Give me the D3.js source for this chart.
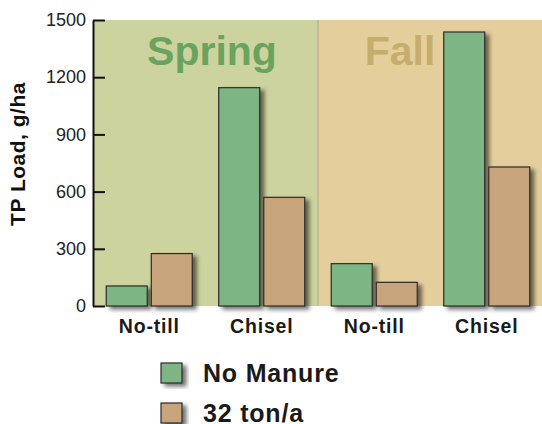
<!DOCTYPE html>
<html>
<head>
<meta charset="utf-8">
<script src="https://cdn.jsdelivr.net/npm/d3@7"></script>
<style>
  body { margin: 0; background: #fff; }
  svg { display: block; }
  text { font-family: "Liberation Sans", Arial, Helvetica, sans-serif; }
</style>
</head>
<body>
<script>
// data
const categories = ['Spring No-till', 'Spring Chisel', 'Fall No-till', 'Fall Chisel'];
const tillage = ['No-till', 'Chisel', 'No-till', 'Chisel'];
const seasons = ['Spring', 'Fall'];
const series = ['No Manure', '32 ton/a'];
const noManure = [105, 1145, 222, 1437];
const manure32 = [275, 570, 124, 729];
const yTicks = [0, 300, 600, 900, 1200, 1500];

const width = 542;
const height = 424;
const colors = { 'No Manure': '#7db684', '32 ton/a': '#c8a47d' };

const svg = d3.select('body')
  .append('svg')
  .attr('width', width)
  .attr('height', height);

const defs = svg.append('defs');
const shadow = defs.append('filter')
  .attr('id', 'shadow')
  .attr('x', '-20%').attr('y', '-20%')
  .attr('width', '150%').attr('height', '150%');
shadow.append('feDropShadow')
  .attr('dx', 4).attr('dy', 3)
  .attr('stdDeviation', 2)
  .attr('flood-color', '#000')
  .attr('flood-opacity', 0.55);

const x = d3.scaleBand().domain(categories).range([93, 543]);
const y = d3.scaleLinear().domain([0, 1500]).range([306, 20]);
const xSub = d3.scaleBand().domain(series).range([-43, 43]).paddingInner(0.09);

// season backgrounds
const seasonBg = [
  { name: 'Spring', x0: 93, x1: x(categories[2]), fill: '#cdd39e', text: '#6aa35d' },
  { name: 'Fall', x0: x(categories[2]), x1: 542, fill: '#e4cf9c', text: '#c6ad6c' }
];
svg.selectAll('rect.bg')
  .data(seasonBg)
  .join('rect')
  .attr('class', 'bg')
  .attr('x', d => d.x0)
  .attr('y', y(1500))
  .attr('width', d => d.x1 - d.x0)
  .attr('height', y(0) - y(1500))
  .attr('fill', d => d.fill);

// thin divider between seasons
svg.append('line')
  .attr('x1', x(categories[2])).attr('x2', x(categories[2]))
  .attr('y1', y(1500)).attr('y2', y(0))
  .attr('stroke', '#a9a88e')
  .attr('stroke-width', 1);

svg.append('text')
  .attr('x', 212).attr('y', 65)
  .attr('text-anchor', 'middle')
  .attr('font-size', 41)
  .attr('font-weight', 'bold')
  .attr('fill', seasonBg[0].text)
  .text(seasons[0]);

svg.append('text')
  .attr('x', 400).attr('y', 65)
  .attr('text-anchor', 'middle')
  .attr('font-size', 41)
  .attr('font-weight', 'bold')
  .attr('fill', seasonBg[1].text)
  .text(seasons[1]);

// bars
const bars = [];
categories.forEach((c, i) => {
  bars.push({ cat: c, s: series[0], v: noManure[i] });
  bars.push({ cat: c, s: series[1], v: manure32[i] });
});

svg.append('g')
  .selectAll('rect')
  .data(bars)
  .join('rect')
  .attr('x', d => x(d.cat) + x.bandwidth() / 2 + xSub(d.s))
  .attr('y', d => y(d.v))
  .attr('width', xSub.bandwidth())
  .attr('height', d => y(0) - y(d.v))
  .attr('fill', d => colors[d.s])
  .attr('stroke', '#2b2b2b')
  .attr('stroke-width', 1.2)
  .attr('filter', 'url(#shadow)');

// y axis
const yAxis = d3.axisLeft(y)
  .tickValues(yTicks)
  .tickFormat(d3.format('d'))
  .tickSizeInner(-12)
  .tickSizeOuter(0)
  .tickPadding(7);

const gy = svg.append('g')
  .attr('transform', 'translate(93,0)')
  .call(yAxis)
  .attr('font-family', null);
gy.select('.domain').attr('stroke', '#111').attr('stroke-width', 2);
gy.selectAll('.tick line').attr('stroke', '#111').attr('stroke-width', 2);
gy.selectAll('.tick text')
  .attr('font-size', 18)
  .attr('fill', '#222');

svg.append('text')
  .attr('transform', 'translate(25,154) rotate(-90)')
  .attr('text-anchor', 'middle')
  .attr('font-size', 21)
  .attr('letter-spacing', 0.5)
  .attr('font-weight', 'bold')
  .attr('fill', '#111')
  .text('TP Load, g/ha');

// x labels
svg.selectAll('text.xl')
  .data(categories)
  .join('text')
  .attr('class', 'xl')
  .attr('x', d => x(d) + x.bandwidth() / 2)
  .attr('y', 333)
  .attr('text-anchor', 'middle')
  .attr('font-size', 19.5)
  .attr('letter-spacing', 0.8)
  .attr('font-weight', 'bold')
  .attr('fill', '#1a1a1a')
  .text((d, i) => tillage[i]);

// legend
const legend = svg.append('g')
  .selectAll('g')
  .data(series)
  .join('g')
  .attr('transform', (d, i) => `translate(161,${363 + i * 40})`);

legend.append('rect')
  .attr('width', 21)
  .attr('height', 20)
  .attr('fill', d => colors[d])
  .attr('stroke', '#2b2b2b')
  .attr('stroke-width', 1.2)
  .attr('filter', 'url(#shadow)');

legend.append('text')
  .attr('x', 42)
  .attr('y', 19)
  .attr('font-size', 25)
  .attr('letter-spacing', 0.8)
  .attr('font-weight', 'bold')
  .attr('fill', '#1a1a1a')
  .text(d => d);
</script>
</body>
</html>
